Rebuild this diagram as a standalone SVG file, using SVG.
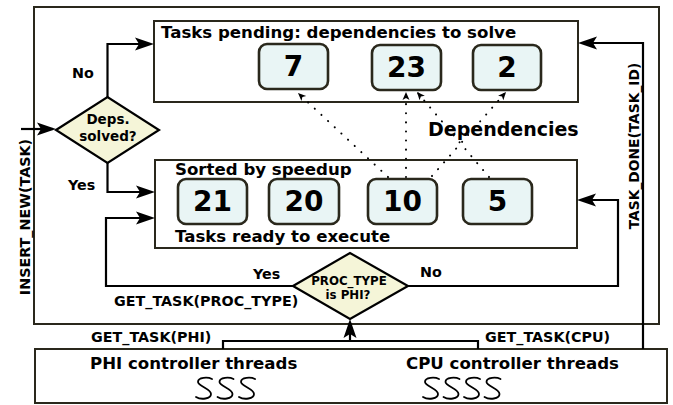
<svg xmlns="http://www.w3.org/2000/svg" width="673" height="405" viewBox="0 0 673 405">
  <style>
    text { font-family: "DejaVu Sans", "Liberation Sans", sans-serif; font-weight: bold; fill: #000; }
    .frame { fill: #fff; stroke: #2a281c; stroke-width: 2; }
    .node rect { fill: #e9f5f5; stroke: #2a281c; stroke-width: 2.6; }
    .node text { font-size: 28px; text-anchor: middle; }
    .diamond { fill: #f5f5d8; stroke: #000; stroke-width: 2.2; }
    .title { font-size: 16.6px; }
    .lbl { font-size: 14.3px; }
    .flow { fill: none; stroke: #000; stroke-width: 2.2; }
    .dep { fill: none; stroke: #000; stroke-width: 2; stroke-linecap: round; stroke-dasharray: 0.1 9; }
    .thread { fill: none; stroke: #000; stroke-width: 1.8; stroke-linecap: round; }
  </style>
  <defs>
    <marker id="ah" viewBox="-23 -7 23 14" refX="-3" refY="0" markerWidth="23" markerHeight="14" markerUnits="userSpaceOnUse" orient="auto">
      <path d="M0,0 L-19,-6.5 L-15,0 L-19,6.5 Z" fill="#000"/>
    </marker>
    <marker id="ahs" viewBox="-10 -4 10 8" refX="0" refY="0" markerWidth="10" markerHeight="8" markerUnits="userSpaceOnUse" orient="auto">
      <path d="M0,0 L-8,-3.5 L-6,0 L-8,3.5 Z" fill="#000"/>
    </marker>
    <!-- one thread glyph: an upright S-shaped squiggle -->
    <path id="s" class="thread" d="M17,2 C13,0 3,0 3,5 C3,9 16,12 16,17 C16,22 6,23 1,20"/>
  </defs>

  <!-- scheduler frame -->
  <rect class="frame" x="34" y="7" width="625" height="317"/>

  <!-- pending queue -->
  <g id="pending">
    <rect class="frame" x="154" y="21" width="424" height="81"/>
    <text class="title" x="161" y="38">Tasks pending: dependencies to solve</text>
  </g>
  <g id="task7" class="node"><rect x="259" y="44" width="69" height="45" rx="8"/><text x="293.5" y="76">7</text></g>
  <g id="task23" class="node"><rect x="372" y="45" width="69" height="45" rx="8"/><text x="406.5" y="77">23</text></g>
  <g id="task2" class="node"><rect x="473" y="45" width="68" height="45" rx="8"/><text x="507" y="77">2</text></g>

  <!-- ready queue -->
  <g id="ready">
    <rect class="frame" x="155" y="160" width="422" height="88"/>
    <text class="title" x="175" y="175">Sorted by speedup</text>
    <text class="title" x="175" y="242">Tasks ready to execute</text>
  </g>
  <g id="task21" class="node"><rect x="178" y="179" width="69" height="45" rx="8"/><text x="212.5" y="211">21</text></g>
  <g id="task20" class="node"><rect x="269" y="179" width="70" height="45" rx="8"/><text x="304" y="211">20</text></g>
  <g id="task10" class="node"><rect x="368" y="179" width="69" height="45" rx="8"/><text x="402.5" y="211">10</text></g>
  <g id="task5" class="node"><rect x="463" y="179" width="69" height="45" rx="8"/><text x="497.5" y="211">5</text></g>

  <!-- decision: dependencies solved -->
  <g id="deps-solved">
    <polygon class="diamond" points="56,130 107.5,97 159,130 107.5,163"/>
    <text x="108" y="124" font-size="13.5" text-anchor="middle">Deps.</text>
    <text x="108" y="141" font-size="13.5" text-anchor="middle">solved?</text>
  </g>

  <!-- decision: processor type -->
  <g id="proc-type">
    <polygon class="diamond" points="293,286 350,253 408,286 350,319"/>
    <text x="349" y="285" font-size="11.8" text-anchor="middle">PROC_TYPE</text>
    <text x="348" y="299" font-size="11.8" text-anchor="middle">is PHI?</text>
  </g>

  <!-- controller threads -->
  <g id="controllers">
    <rect class="frame" x="35" y="349" width="632" height="54"/>
    <text class="title" x="90" y="369">PHI controller threads</text>
    <text class="title" x="406" y="369">CPU controller threads</text>
    <use href="#s" x="195" y="377"/>
    <use href="#s" x="216.5" y="377"/>
    <use href="#s" x="238" y="377"/>
    <use href="#s" x="422" y="377"/>
    <use href="#s" x="442.5" y="377"/>
    <use href="#s" x="463" y="377"/>
    <use href="#s" x="483.5" y="377"/>
  </g>

  <!-- connectors -->
  <g id="connectors">
    <path class="flow" d="M21,129 H53" marker-end="url(#ah)"/>
    <path class="flow" d="M107.5,97 V44 H151" marker-end="url(#ah)"/>
    <path class="flow" d="M107.5,163 V192 H152" marker-end="url(#ah)"/>
    <path class="flow" d="M293,286 H106 V218 H152" marker-end="url(#ah)"/>
    <path class="flow" d="M408,286 H618 V200 H580" marker-end="url(#ah)"/>
    <path class="flow" d="M643,349 V43 H581" marker-end="url(#ah)"/>
    <path class="flow" d="M223,349 V341 H478 V349"/>
    <path class="flow" d="M350,341 V322" marker-end="url(#ah)"/>

    <path class="dep" d="M388,177 L298,93" marker-end="url(#ahs)"/>
    <path class="dep" d="M406,177 V92" marker-end="url(#ahs)"/>
    <path class="dep" d="M489,177 L417,92" marker-end="url(#ahs)"/>
    <path class="dep" d="M432,176 L506,92" marker-end="url(#ahs)"/>
  </g>

  <!-- labels -->
  <text x="428" y="136" font-size="19">Dependencies</text>
  <text class="lbl" x="72" y="78">No</text>
  <text class="lbl" x="68" y="190">Yes</text>
  <text class="lbl" x="253" y="279">Yes</text>
  <text class="lbl" x="420" y="277">No</text>
  <text class="lbl" x="114" y="306">GET_TASK(PROC_TYPE)</text>
  <text class="lbl" x="91" y="342">GET_TASK(PHI)</text>
  <text class="lbl" x="485" y="342">GET_TASK(CPU)</text>
  <text class="lbl" transform="translate(30,217) rotate(-90)" text-anchor="middle">INSERT_NEW(TASK)</text>
  <text transform="translate(639,146) rotate(-90)" font-size="13.8" text-anchor="middle">TASK_DONE(TASK_ID)</text>
</svg>
